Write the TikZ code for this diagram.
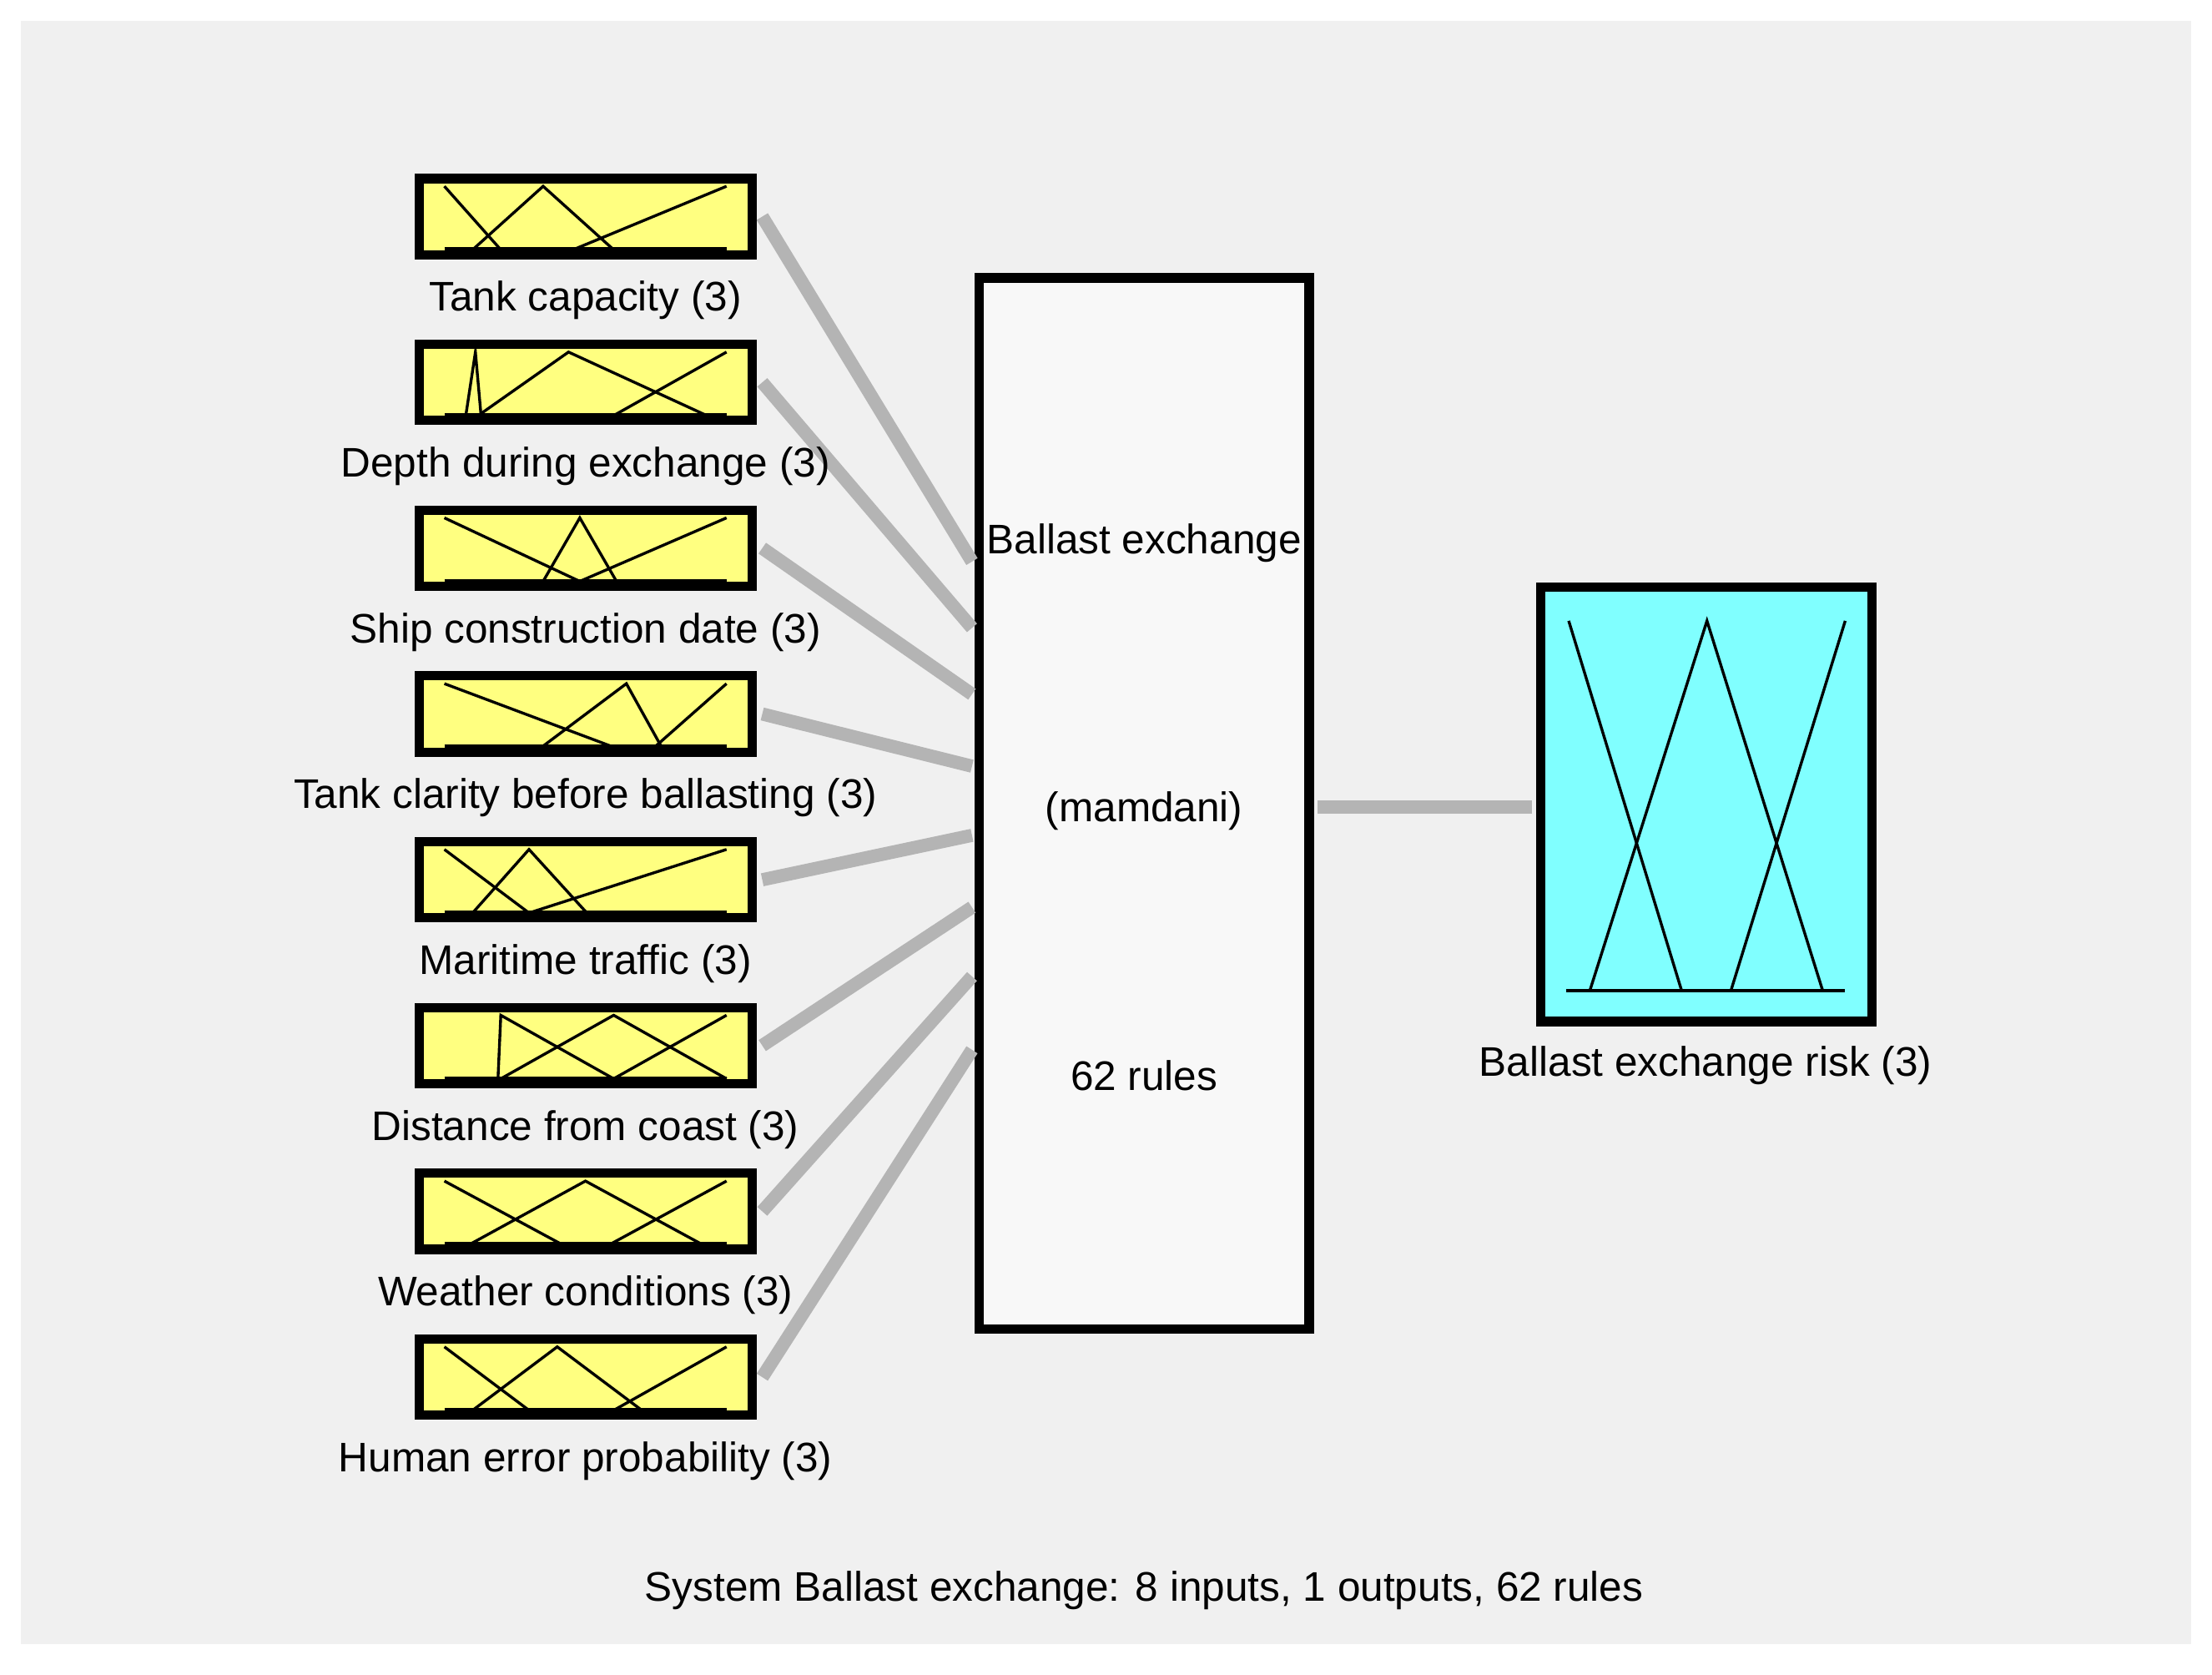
\documentclass[tikz,border=0pt]{standalone}
\usepackage{fontspec}
\setmainfont{Liberation Sans}
\begin{document}
\begin{tikzpicture}[x=0.3mm,y=-0.3mm,
  inbox/.style={draw=black,line width=2mm,fill=inyellow,minimum width=236*0.3mm,minimum height=54*0.3mm,inner sep=0pt},
  lab/.style={font=\fontsize{25}{28}\selectfont,inner sep=0pt},
  conn/.style={draw=lgray,line width=2.8mm},
  mf/.style={line width=0.6mm,black,line join=miter}]
\definecolor{bg}{HTML}{F0F0F0}
\definecolor{inyellow}{HTML}{FFFF80}
\definecolor{outcyan}{HTML}{80FFFF}
\definecolor{lgray}{HTML}{B4B4B4}
\useasboundingbox (0,0) rectangle (1568,1187);
\fill[white] (0,0) rectangle (1568,1187);
\fill[bg] (15,15) rectangle (1553,1165);
\node[draw=black,line width=2mm,fill=bg!50!white,minimum width=234*0.3mm,minimum height=745*0.3mm,inner sep=0pt] (c) at (811,569.5) {};
\node[lab] (c1) at (811,385) {Ballast exchange};
\node[lab] (c2) at (811,575) {(mamdani)};
\node[lab] (c3) at (811,762) {62 rules};
\foreach \k/\ey in {0/398,1/445,2/492,3/543,4/592,5/643,6/692,7/744}{
  \coordinate (e\k) at (689,\ey);
}
\foreach \k/\txt in {0/Tank capacity (3),1/Depth during exchange (3),2/Ship construction date (3),3/Tank clarity before ballasting (3),4/Maritime traffic (3),5/Distance from coast (3),6/Weather conditions (3),7/Human error probability (3)}{
  \node[inbox] (i\k) at (415,{153.5+117.5*\k}) {};
  \draw[conn] (i\k.east) ++(4,0) -- (e\k);
  \draw[line width=1mm] (315,{124+117.5*\k+53}) -- (515,{124+117.5*\k+53});
  \node[lab] (l\k) at (415,{124+117.5*\k+89}) {\txt};
}
\node[draw=black,line width=2mm,fill=outcyan,minimum width=235*0.3mm,minimum height=308*0.3mm,inner sep=0pt] (o) at (1209.5,570) {};
\node[lab] (ol) at (1209,755) {Ballast exchange risk (3)};
\coordinate (oe) at (934,572);
\coordinate (os) at (1086,572);
\draw[conn] (oe) -- (os);
\node[lab,font=\fontsize{25}{28}\selectfont] (cap) at (811,1127) {System Ballast exchange: 8 inputs, 1 outputs, 62 rules};
% membership functions
\begin{scope}[shift={(315,132)},x=60mm,y=-13.5mm]
\draw[mf] (0,0)--(0.20,1); \draw[mf] (0.10,1)--(0.35,0)--(0.60,1); \draw[mf] (0.456,1)--(1,0);
\end{scope}
\begin{scope}[shift={(315,249.5)},x=60mm,y=-13.5mm]
\draw[mf] (0.076,1)--(0.11,0)--(0.13,1); \draw[mf] (0.12,1)--(0.44,0)--(0.93,1); \draw[mf] (0.60,1)--(1,0);
\end{scope}
\begin{scope}[shift={(315,367)},x=60mm,y=-13.5mm]
\draw[mf] (0,0)--(0.48,1); \draw[mf] (0.35,1)--(0.48,0)--(0.61,1); \draw[mf] (0.48,1)--(1,0);
\end{scope}
\begin{scope}[shift={(315,484.5)},x=60mm,y=-13.5mm]
\draw[mf] (0,0)--(0.60,1); \draw[mf] (0.345,1)--(0.645,0)--(0.77,1); \draw[mf] (0.745,1)--(1,0);
\end{scope}
\begin{scope}[shift={(315,602)},x=60mm,y=-13.5mm]
\draw[mf] (0,0)--(0.30,1); \draw[mf] (0.10,1)--(0.30,0)--(0.505,1); \draw[mf] (0.30,1)--(1,0);
\end{scope}
\begin{scope}[shift={(315,719.5)},x=60mm,y=-13.5mm]
\draw[mf] (0.19,1)--(0.20,0)--(0.60,1); \draw[mf] (0.20,1)--(0.60,0)--(1,1); \draw[mf] (0.60,1)--(1,0);
\end{scope}
\begin{scope}[shift={(315,837)},x=60mm,y=-13.5mm]
\draw[mf] (0,0)--(0.417,1); \draw[mf] (0.089,1)--(0.50,0)--(0.914,1); \draw[mf] (0.586,1)--(1,0);
\end{scope}
\begin{scope}[shift={(315,954.5)},x=60mm,y=-13.5mm]
\draw[mf] (0,0)--(0.30,1); \draw[mf] (0.10,1)--(0.40,0)--(0.70,1); \draw[mf] (0.60,1)--(1,0);
\end{scope}
% output MFs
\draw[mf] (1110,702) -- (1308,702);
\draw[mf] (1112,440) -- (1192,702);
\draw[mf] (1127,702) -- (1210,440) -- (1292,702);
\draw[mf] (1227,702) -- (1308,440);
\end{tikzpicture}
\end{document}
